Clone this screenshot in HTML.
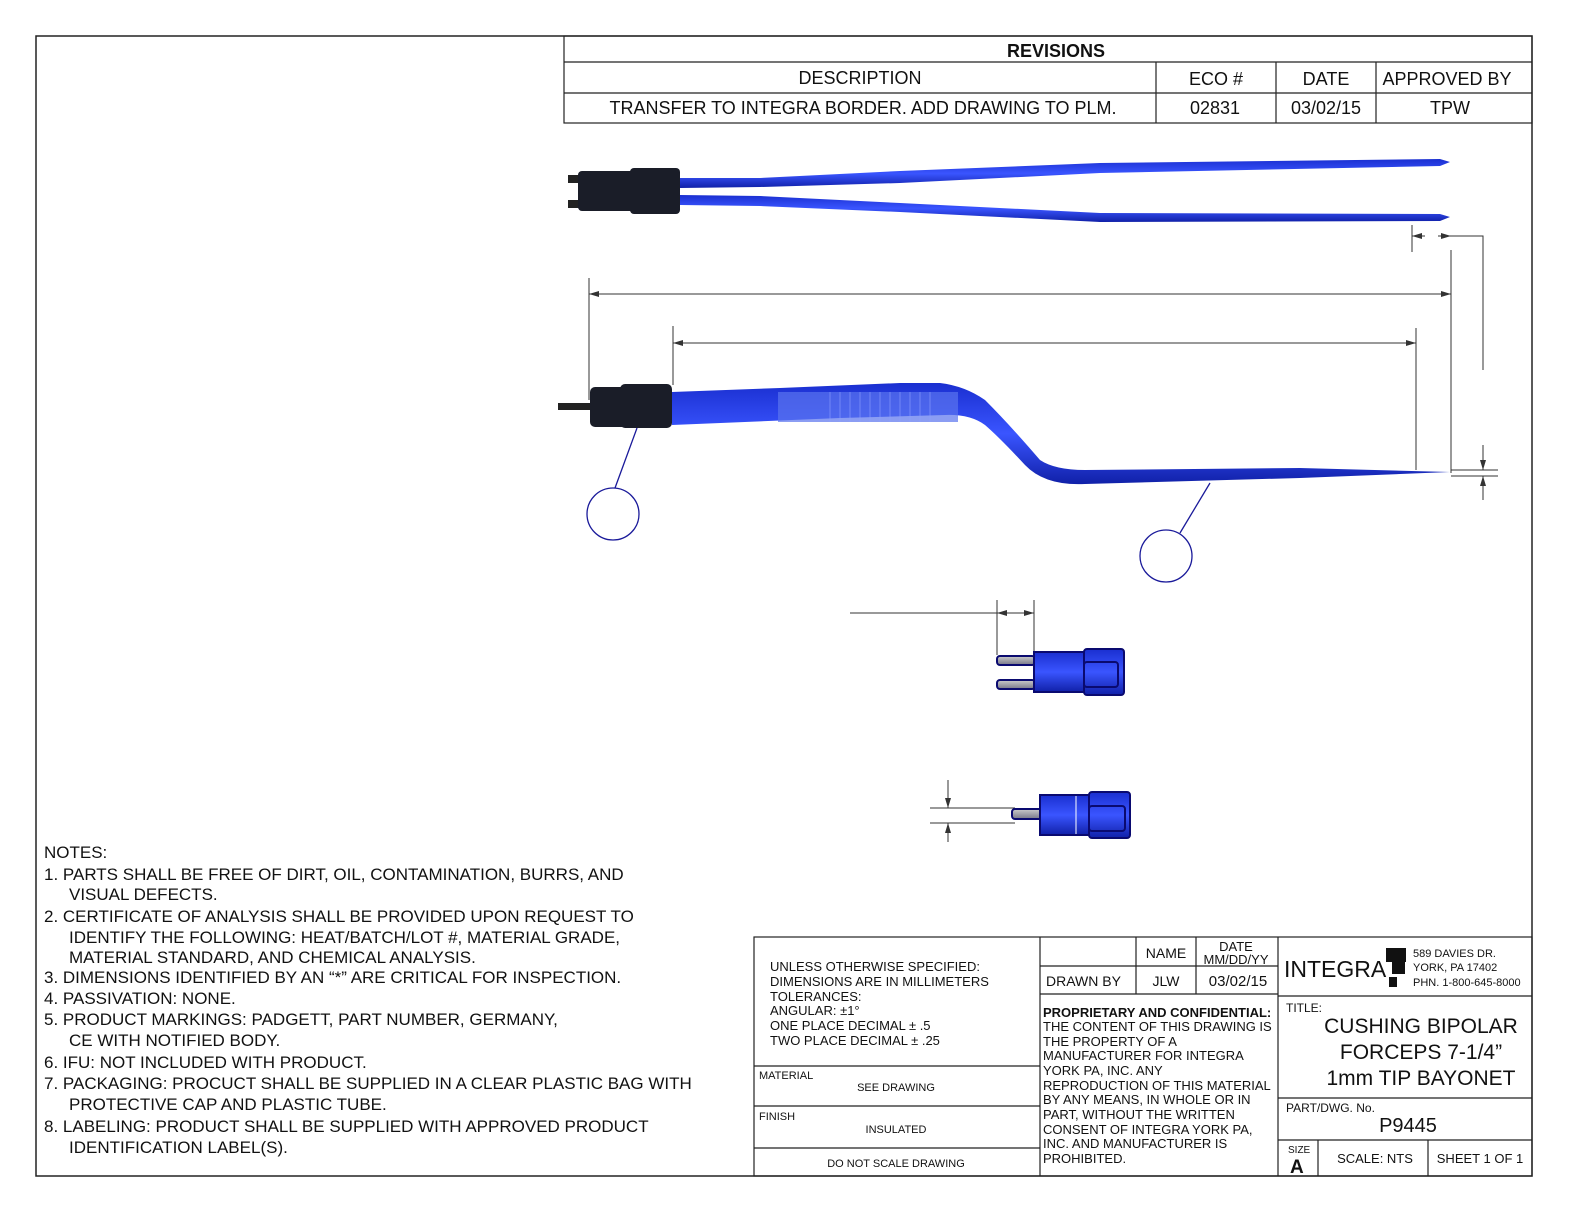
<!DOCTYPE html>
<html><head><meta charset="utf-8"><style>
html,body{margin:0;padding:0;background:#fff;overflow:hidden;width:1584px;height:1224px}
svg{display:block}
text{font-family:"Liberation Sans",sans-serif;fill:#111}
</style></head><body>
<svg width="1584" height="1224" viewBox="0 0 1584 1224" xmlns="http://www.w3.org/2000/svg">
<defs>
<linearGradient id="bl" x1="0" y1="0" x2="0" y2="1"><stop offset="0" stop-color="#1a2fd0"/><stop offset=".5" stop-color="#3a55ff"/><stop offset="1" stop-color="#1020a8"/></linearGradient>
<linearGradient id="pin" x1="0" y1="0" x2="0" y2="1"><stop offset="0" stop-color="#ccc"/><stop offset="1" stop-color="#778"/></linearGradient>
<marker id="ar" markerWidth="10" markerHeight="6" refX="10" refY="3" orient="auto" markerUnits="userSpaceOnUse"><path d="M0,0 L10,3 L0,6z" fill="#333"/></marker>
</defs>
<rect x="36" y="36" width="1496" height="1140" fill="none" stroke="#222" stroke-width="1.5"/>
<!-- revisions -->
<g stroke="#222" stroke-width="1.2" fill="none">
<rect x="564" y="36" width="968" height="87"/>
<line x1="564" y1="62" x2="1532" y2="62"/><line x1="564" y1="93" x2="1532" y2="93"/>
<line x1="1156" y1="62" x2="1156" y2="123"/><line x1="1276" y1="62" x2="1276" y2="123"/><line x1="1376" y1="62" x2="1376" y2="123"/>
</g>
<g font-size="18" text-anchor="middle">
<text x="1056" y="57" font-weight="bold">REVISIONS</text>
<text x="860" y="84">DESCRIPTION</text><text x="1216" y="85">ECO #</text><text x="1326" y="85">DATE</text><text x="1447" y="85">APPROVED BY</text>
<text x="863" y="114">TRANSFER TO INTEGRA BORDER. ADD DRAWING TO PLM.</text><text x="1215" y="114">02831</text><text x="1326" y="114">03/02/15</text><text x="1450" y="114">TPW</text>
</g>
<!-- top view forceps -->
<path d="M680,178 L760,178 L900,171 L1100,163 L1440,159 L1450,162 L1440,166 L1100,173 L900,183 L760,187 L680,188z" fill="url(#bl)"/>
<path d="M680,195 L760,196 L900,203 L1100,213 L1440,214 L1450,217 L1440,221 L1100,222 L900,212 L760,206 L680,205z" fill="url(#bl)"/>
<rect x="568" y="175" width="20" height="8" fill="#222"/><rect x="568" y="200" width="20" height="8" fill="#222"/>
<rect x="578" y="171" width="80" height="40" rx="4" fill="#1a1d28"/>
<rect x="630" y="168" width="50" height="46" rx="4" fill="#1a1d28"/>
<!-- side view forceps -->
<path d="M672,392 L780,388 L900,383 L940,383 Q965,386 985,400 Q1010,425 1040,460 Q1055,470 1085,470 L1300,468 L1450,472 L1300,478 L1085,484 Q1045,486 1025,465 Q1000,438 985,425 Q970,414 945,415 L840,418 L672,425z" fill="url(#bl)"/>
<rect x="778" y="392" width="180" height="30" fill="#5a74ee" opacity=".7"/>
<g stroke="#8fa0ff" stroke-width="1" opacity=".6">
<line x1="830" y1="392" x2="830" y2="422"/><line x1="840" y1="392" x2="840" y2="422"/><line x1="850" y1="392" x2="850" y2="422"/><line x1="860" y1="392" x2="860" y2="422"/><line x1="870" y1="392" x2="870" y2="422"/><line x1="880" y1="392" x2="880" y2="422"/><line x1="890" y1="392" x2="890" y2="422"/><line x1="900" y1="392" x2="900" y2="422"/><line x1="910" y1="392" x2="910" y2="422"/><line x1="920" y1="392" x2="920" y2="422"/><line x1="930" y1="392" x2="930" y2="422"/>
</g>
<rect x="558" y="403" width="34" height="7" fill="#222"/>
<rect x="590" y="387" width="50" height="40" rx="5" fill="#1a1d28"/>
<rect x="620" y="384" width="52" height="44" rx="5" fill="#1a1d28"/>
<!-- dimensions -->
<g stroke="#333" stroke-width="1" fill="none">
<line x1="589" y1="278" x2="589" y2="400"/><line x1="1451" y1="250" x2="1451" y2="473"/>
<line x1="600" y1="294" x2="1451" y2="294" marker-end="url(#ar)"/><line x1="1440" y1="294" x2="589" y2="294" marker-end="url(#ar)"/>
<line x1="673" y1="326" x2="673" y2="385"/><line x1="1416" y1="328" x2="1416" y2="470"/>
<line x1="690" y1="343" x2="1416" y2="343" marker-end="url(#ar)"/><line x1="1400" y1="343" x2="673" y2="343" marker-end="url(#ar)"/>
<line x1="1412" y1="225" x2="1412" y2="252"/>
<line x1="1425" y1="236" x2="1412" y2="236" marker-end="url(#ar)"/><line x1="1438" y1="236" x2="1451" y2="236" marker-end="url(#ar)"/>
<polyline points="1451,236 1483,236 1483,370"/>
<line x1="1451" y1="470" x2="1498" y2="470"/><line x1="1451" y1="476" x2="1498" y2="476"/>
<line x1="1483" y1="445" x2="1483" y2="470" marker-end="url(#ar)"/><line x1="1483" y1="500" x2="1483" y2="476" marker-end="url(#ar)"/>
<line x1="850" y1="613" x2="1034" y2="613"/><line x1="997" y1="600" x2="997" y2="655"/><line x1="1034" y1="600" x2="1034" y2="652"/>
<line x1="1010" y1="613" x2="997" y2="613" marker-end="url(#ar)"/><line x1="1020" y1="613" x2="1034" y2="613" marker-end="url(#ar)"/>
<line x1="930" y1="808" x2="1015" y2="808"/><line x1="930" y1="823" x2="1015" y2="823"/>
<line x1="948" y1="780" x2="948" y2="808" marker-end="url(#ar)"/><line x1="948" y1="842" x2="948" y2="823" marker-end="url(#ar)"/>
</g>
<!-- balloons -->
<g stroke="#1a1a9a" stroke-width="1.3" fill="none">
<circle cx="613" cy="514" r="26"/><circle cx="1166" cy="556" r="26"/>
<line x1="615" y1="488" x2="637" y2="428"/><line x1="1180" y1="533" x2="1210" y2="483"/>
</g>
<!-- connector views -->
<g stroke="#0a0a70" stroke-width="2">
<rect x="997" y="656" width="38" height="9" rx="3" fill="url(#pin)"/><rect x="997" y="680" width="38" height="9" rx="3" fill="url(#pin)"/>
<rect x="1034" y="652" width="52" height="40" fill="url(#bl)"/>
<rect x="1084" y="649" width="40" height="46" rx="3" fill="url(#bl)"/>
<rect x="1084" y="662" width="34" height="25" rx="3" fill="none"/>
<rect x="1012" y="809" width="30" height="10" rx="3" fill="url(#pin)"/>
<rect x="1040" y="795" width="50" height="40" fill="url(#bl)"/>
<rect x="1089" y="792" width="41" height="46" rx="3" fill="url(#bl)"/>
<rect x="1089" y="806" width="36" height="25" rx="3" fill="none"/>
</g>
<line x1="1076" y1="796" x2="1076" y2="834" stroke="#fff" stroke-width="1"/>
<!-- notes -->
<g font-size="17">
<text x="44" y="858">NOTES:</text>
<text x="44" y="880">1.  PARTS SHALL BE FREE OF DIRT, OIL, CONTAMINATION, BURRS, AND</text>
<text x="69" y="900">VISUAL DEFECTS.</text>
<text x="44" y="922">2.  CERTIFICATE OF ANALYSIS SHALL BE PROVIDED UPON REQUEST TO</text>
<text x="69" y="943">IDENTIFY THE FOLLOWING: HEAT/BATCH/LOT #, MATERIAL GRADE,</text>
<text x="69" y="963">MATERIAL STANDARD, AND CHEMICAL ANALYSIS.</text>
<text x="44" y="983">3.  DIMENSIONS IDENTIFIED BY AN “*” ARE CRITICAL FOR INSPECTION.</text>
<text x="44" y="1004">4.  PASSIVATION: NONE.</text>
<text x="44" y="1025">5.  PRODUCT MARKINGS: PADGETT, PART NUMBER, GERMANY,</text>
<text x="69" y="1046">CE WITH NOTIFIED BODY.</text>
<text x="44" y="1068">6.  IFU: NOT INCLUDED WITH PRODUCT.</text>
<text x="44" y="1089">7.  PACKAGING: PROCUCT SHALL BE SUPPLIED IN A CLEAR PLASTIC BAG WITH</text>
<text x="69" y="1110">PROTECTIVE CAP AND PLASTIC TUBE.</text>
<text x="44" y="1132">8.  LABELING: PRODUCT SHALL BE SUPPLIED WITH APPROVED PRODUCT</text>
<text x="69" y="1153">IDENTIFICATION LABEL(S).</text>
</g>
<!-- title block -->
<g stroke="#222" stroke-width="1.2" fill="none">
<rect x="754" y="937" width="778" height="239"/>
<line x1="1040" y1="937" x2="1040" y2="1176"/><line x1="1278" y1="937" x2="1278" y2="1176"/>
<line x1="754" y1="1066" x2="1040" y2="1066"/><line x1="754" y1="1106" x2="1040" y2="1106"/><line x1="754" y1="1148" x2="1040" y2="1148"/>
<line x1="1040" y1="966" x2="1278" y2="966"/><line x1="1040" y1="994" x2="1278" y2="994"/>
<line x1="1136" y1="937" x2="1136" y2="994"/><line x1="1196" y1="937" x2="1196" y2="994"/>
<line x1="1278" y1="996" x2="1532" y2="996"/><line x1="1278" y1="1098" x2="1532" y2="1098"/><line x1="1278" y1="1140" x2="1532" y2="1140"/>
<line x1="1318" y1="1140" x2="1318" y2="1176"/><line x1="1428" y1="1140" x2="1428" y2="1176"/>
</g>
<g font-size="13">
<text x="770" y="971">UNLESS OTHERWISE SPECIFIED:</text>
<text x="770" y="986">DIMENSIONS ARE IN MILLIMETERS</text>
<text x="770" y="1001">TOLERANCES:</text>
<text x="770" y="1015">ANGULAR: ±1°</text>
<text x="770" y="1030">ONE PLACE DECIMAL ± .5</text>
<text x="770" y="1045">TWO PLACE DECIMAL ± .25</text>
<text x="759" y="1079" font-size="11">MATERIAL</text>
<text x="896" y="1091" font-size="11" text-anchor="middle">SEE DRAWING</text>
<text x="759" y="1120" font-size="11">FINISH</text>
<text x="896" y="1133" font-size="11" text-anchor="middle">INSULATED</text>
<text x="896" y="1167" font-size="11" text-anchor="middle">DO NOT SCALE DRAWING</text>
<text x="1166" y="958" text-anchor="middle" font-size="14">NAME</text>
<text x="1236" y="951" text-anchor="middle">DATE</text><text x="1236" y="964" text-anchor="middle">MM/DD/YY</text>
<text x="1046" y="986" font-size="14">DRAWN BY</text><text x="1166" y="986" text-anchor="middle" font-size="14">JLW</text><text x="1238" y="986" text-anchor="middle" font-size="15">03/02/15</text>
<text x="1043" y="1017" font-weight="bold">PROPRIETARY AND CONFIDENTIAL:</text>
<text x="1043" y="1031">THE CONTENT OF THIS DRAWING IS</text>
<text x="1043" y="1046">THE PROPERTY OF A</text>
<text x="1043" y="1060">MANUFACTURER FOR INTEGRA</text>
<text x="1043" y="1075">YORK PA, INC. ANY</text>
<text x="1043" y="1090">REPRODUCTION OF THIS MATERIAL</text>
<text x="1043" y="1104">BY ANY MEANS, IN WHOLE OR IN</text>
<text x="1043" y="1119">PART, WITHOUT THE WRITTEN</text>
<text x="1043" y="1134">CONSENT OF INTEGRA YORK PA,</text>
<text x="1043" y="1148">INC. AND MANUFACTURER IS</text>
<text x="1043" y="1163">PROHIBITED.</text>
</g>
<text x="1284" y="977" font-size="23">INTEGRA</text>
<rect x="1386" y="948" width="20" height="14" fill="#111"/><rect x="1392" y="962" width="13" height="12" fill="#111"/><rect x="1389" y="977" width="8" height="10" fill="#111"/>
<g font-size="11"><text x="1413" y="957">589 DAVIES DR.</text><text x="1413" y="971">YORK, PA 17402</text><text x="1413" y="986">PHN. 1-800-645-8000</text></g>
<text x="1286" y="1012" font-size="12">TITLE:</text>
<g font-size="21" text-anchor="middle"><text x="1421" y="1033">CUSHING BIPOLAR</text><text x="1421" y="1059">FORCEPS 7-1/4”</text><text x="1421" y="1085">1mm TIP BAYONET</text></g>
<text x="1286" y="1112" font-size="12">PART/DWG. No.</text>
<text x="1408" y="1132" font-size="20" text-anchor="middle">P9445</text>
<text x="1288" y="1153" font-size="10">SIZE</text><text x="1290" y="1173" font-size="19" font-weight="bold">A</text>
<text x="1375" y="1163" font-size="13" text-anchor="middle">SCALE: NTS</text>
<text x="1480" y="1163" font-size="13" text-anchor="middle">SHEET 1 OF 1</text>
</svg>
</body></html>
